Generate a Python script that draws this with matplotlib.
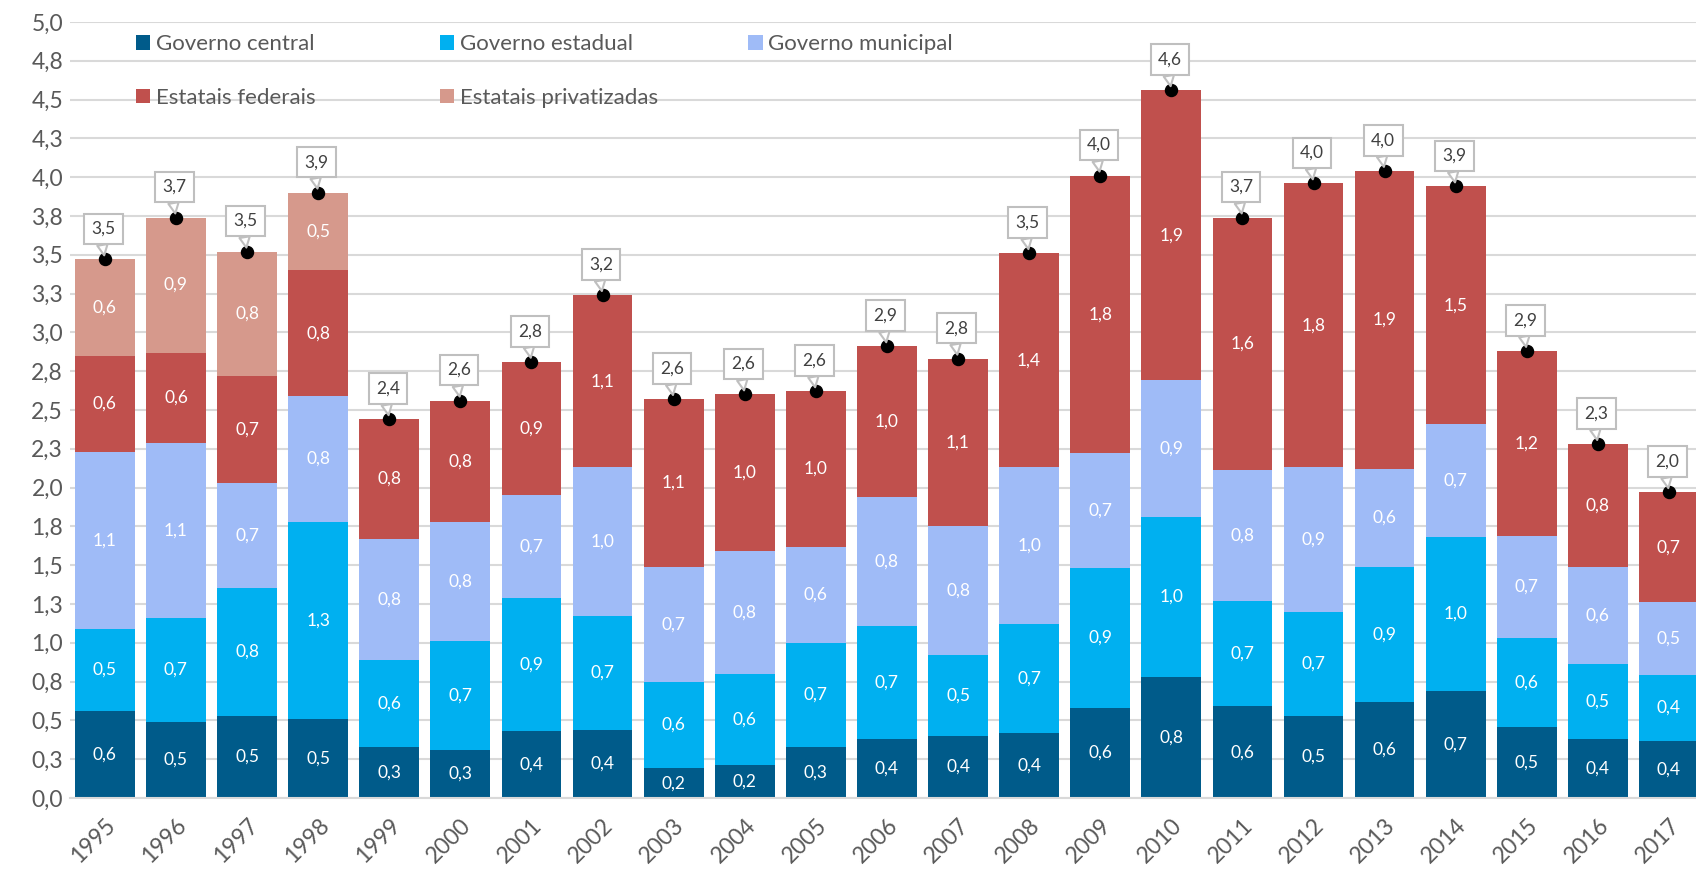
import matplotlib
matplotlib.use("Agg")
import matplotlib.pyplot as plt
import numpy as np

# Values (% of GDP)
years = [str(y) for y in range(1995, 2018)]
central = [0.56, 0.49, 0.53, 0.51, 0.33, 0.31, 0.43, 0.44, 0.19, 0.21, 0.33, 0.38,
           0.40, 0.42, 0.58, 0.78, 0.59, 0.53, 0.62, 0.69, 0.46, 0.38, 0.37]
estadual = [0.53, 0.67, 0.82, 1.27, 0.56, 0.70, 0.86, 0.73, 0.56, 0.59, 0.67, 0.73,
            0.52, 0.70, 0.90, 1.03, 0.68, 0.67, 0.87, 0.99, 0.57, 0.48, 0.42]
municipal = [1.14, 1.13, 0.68, 0.81, 0.78, 0.77, 0.66, 0.96, 0.74, 0.79, 0.62, 0.83,
             0.83, 1.01, 0.74, 0.88, 0.84, 0.93, 0.63, 0.73, 0.66, 0.63, 0.47]
federais = [0.62, 0.58, 0.69, 0.81, 0.77, 0.78, 0.86, 1.11, 1.08, 1.01, 1.00, 0.97,
            1.08, 1.38, 1.79, 1.87, 1.63, 1.83, 1.92, 1.53, 1.19, 0.79, 0.71]
privatizadas = [0.62, 0.87, 0.80, 0.50, 0, 0, 0, 0, 0, 0, 0, 0,
                0, 0, 0, 0, 0, 0, 0, 0, 0, 0, 0]

series_names = ["Governo central", "Governo estadual", "Governo municipal",
                "Estatais federais", "Estatais privatizadas"]
colors = ["#005b8a", "#00b0f0", "#9fbbf7", "#c0504d", "#d6998c"]
y_ticks = np.arange(0, 5.01, 0.25)
y_tick_labels = ["0,0", "0,3", "0,5", "0,8", "1,0", "1,3", "1,5", "1,8", "2,0", "2,3", "2,5",
                 "2,8", "3,0", "3,3", "3,5", "3,8", "4,0", "4,3", "4,5", "4,8", "5,0"]

plt.rcParams["font.family"] = ["Lato", "DejaVu Sans"]

def fmt(v):
    return f"{v:.1f}".replace(".", ",")

fig = plt.figure(figsize=(16.96, 8.72), dpi=100)
ax = fig.add_axes([0.0413, 0.0849, 0.9587, 0.8899])

x = np.arange(len(years))
data = [central, estadual, municipal, federais, privatizadas]
bottom = np.zeros(len(years))
handles = []
for vals, name, col in zip(data, series_names, colors):
    vals = np.array(vals, dtype=float)
    bars = ax.bar(x, vals, width=0.84, bottom=bottom, color=col, label=name,
                  linewidth=0, zorder=2)
    handles.append(bars)
    for xi, b, v in zip(x, bottom, vals):
        if v > 0:
            ax.text(xi, b + v / 2, fmt(v), ha="center", va="center",
                    color="white", fontsize=12.5, zorder=3)
    bottom = bottom + vals

# totals: black dot + callout box
totals = bottom
ax.scatter(x, totals, s=75, color="black", zorder=5, clip_on=False)
for xi, t in zip(x, totals):
    ax.annotate(fmt(t), xy=(xi, t), xytext=(-1, 22), textcoords="offset points",
                ha="center", va="center", fontsize=12.5, color="#404040", zorder=6,
                bbox=dict(boxstyle="square,pad=0.42", fc="white", ec="#bfbfbf", lw=1.5),
                arrowprops=dict(arrowstyle="wedge,tail_width=0.6", fc="white",
                                ec="#bfbfbf", lw=1.5, relpos=(0.4, 0.0),
                                shrinkA=0, shrinkB=3))

ax.set_xlim(-0.49, 22.38)
ax.set_ylim(0, 5.0)
ax.set_yticks(y_ticks)
ax.set_yticklabels(y_tick_labels)
ax.set_xticks(x)
ax.set_xticklabels(years, rotation=45, ha="right", va="top", rotation_mode="anchor")
ax.tick_params(axis="both", length=0, labelsize=16.5, labelcolor="#595959")
ax.tick_params(axis="x", pad=12)
ax.tick_params(axis="y", pad=5)
ax.grid(axis="y", color="#d9d9d9", lw=1.5, zorder=0)
ax.set_axisbelow(True)
for s in ["top", "right", "left"]:
    ax.spines[s].set_visible(False)
ax.spines["bottom"].set_color("#d9d9d9")
ax.spines["bottom"].set_linewidth(1.5)

# legend: three fixed-width columns like the Excel legend
legend_cols = [[0, 3], [1, 4], [2]]
legend_x = [0.0405, 0.2275, 0.4172]
legends = []
for idx, lx in zip(legend_cols, legend_x):
    leg = ax.legend([handles[i] for i in idx], [series_names[i] for i in idx],
                    loc="upper left", bbox_to_anchor=(lx, 0.984), frameon=False,
                    fontsize=16, labelcolor="#595959", handlelength=0.65,
                    handleheight=0.65, handletextpad=0.25, labelspacing=1.5,
                    borderpad=0, borderaxespad=0)
    legends.append(leg)
for leg in legends[:-1]:
    ax.add_artist(leg)

fig.savefig("out.png", dpi=100)
